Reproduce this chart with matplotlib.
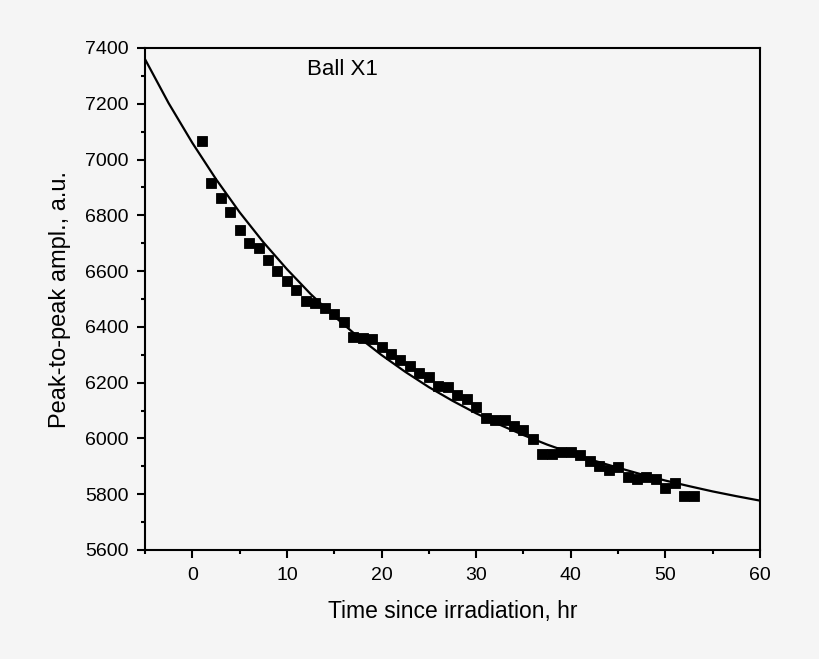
import numpy as np
import matplotlib
matplotlib.use('Agg')
import matplotlib.pyplot as plt
from matplotlib.ticker import MultipleLocator

plt.rcParams['font.family'] = ['Liberation Sans', 'DejaVu Sans']

# measured points (hours since irradiation, peak-to-peak amplitude)
hours = list(range(1, 54))
ampl = [7068, 6917, 6863, 6813, 6747, 6700, 6684, 6640, 6600, 6565,
        6532, 6493, 6487, 6467, 6445, 6419, 6363, 6360, 6356, 6328,
        6303, 6281, 6260, 6236, 6219, 6189, 6186, 6154, 6142, 6114,
        6075, 6066, 6066, 6045, 6030, 5997, 5944, 5944, 5950, 5950,
        5940, 5919, 5902, 5887, 5899, 5861, 5854, 5863, 5855, 5821,
        5840, 5794, 5795]

# fitted decay curve
fit_t = [-5, -2.5, 0, 2.5, 5, 7.5, 10, 12.5, 15, 17.5, 20, 22.5, 25, 27.5,
         30, 32.5, 35, 37.5, 40, 42.5, 45, 47.5, 50, 52.5, 55, 57.5, 60]
fit_y = [7360, 7202, 7060, 6930, 6811, 6704, 6607, 6518, 6438, 6365, 6299,
         6239, 6184, 6135, 6090, 6049, 6012, 5978, 5948, 5920, 5895, 5871,
         5849, 5829, 5810, 5793, 5777]

BG = '#f5f5f5'
fig = plt.figure(figsize=(8.2, 6.59), dpi=100, facecolor=BG)
ax = fig.add_axes([145/820, 1-550/659, 615/820, 502/659], facecolor=BG)

ax.plot(fit_t, fit_y, '-', color='k', lw=1.6, zorder=2)
ax.plot(hours, ampl, 's', color='k', ms=7.6, mew=0.6, zorder=3)

ax.set_xlim(-5, 60); ax.set_ylim(5600, 7400)
ax.xaxis.set_major_locator(MultipleLocator(10)); ax.xaxis.set_minor_locator(MultipleLocator(5))
ax.yaxis.set_major_locator(MultipleLocator(200)); ax.yaxis.set_minor_locator(MultipleLocator(100))
ax.tick_params(which='both', direction='out', width=1.5, labelsize=14, top=False, right=False)
ax.tick_params(which='major', length=6, pad=6)
ax.tick_params(which='minor', length=3)
for s in ax.spines.values():
    s.set_linewidth(1.5)
ax.set_xlabel('Time since irradiation, hr', fontsize=16.5, labelpad=12)
ax.set_ylabel('Peak-to-peak ampl., a.u.', fontsize=17, labelpad=10)
ax.text(0.263, 0.946, 'Ball X1', transform=ax.transAxes, fontsize=16, ha='left', va='baseline')

fig.savefig('out.png', dpi=100, facecolor=BG)
